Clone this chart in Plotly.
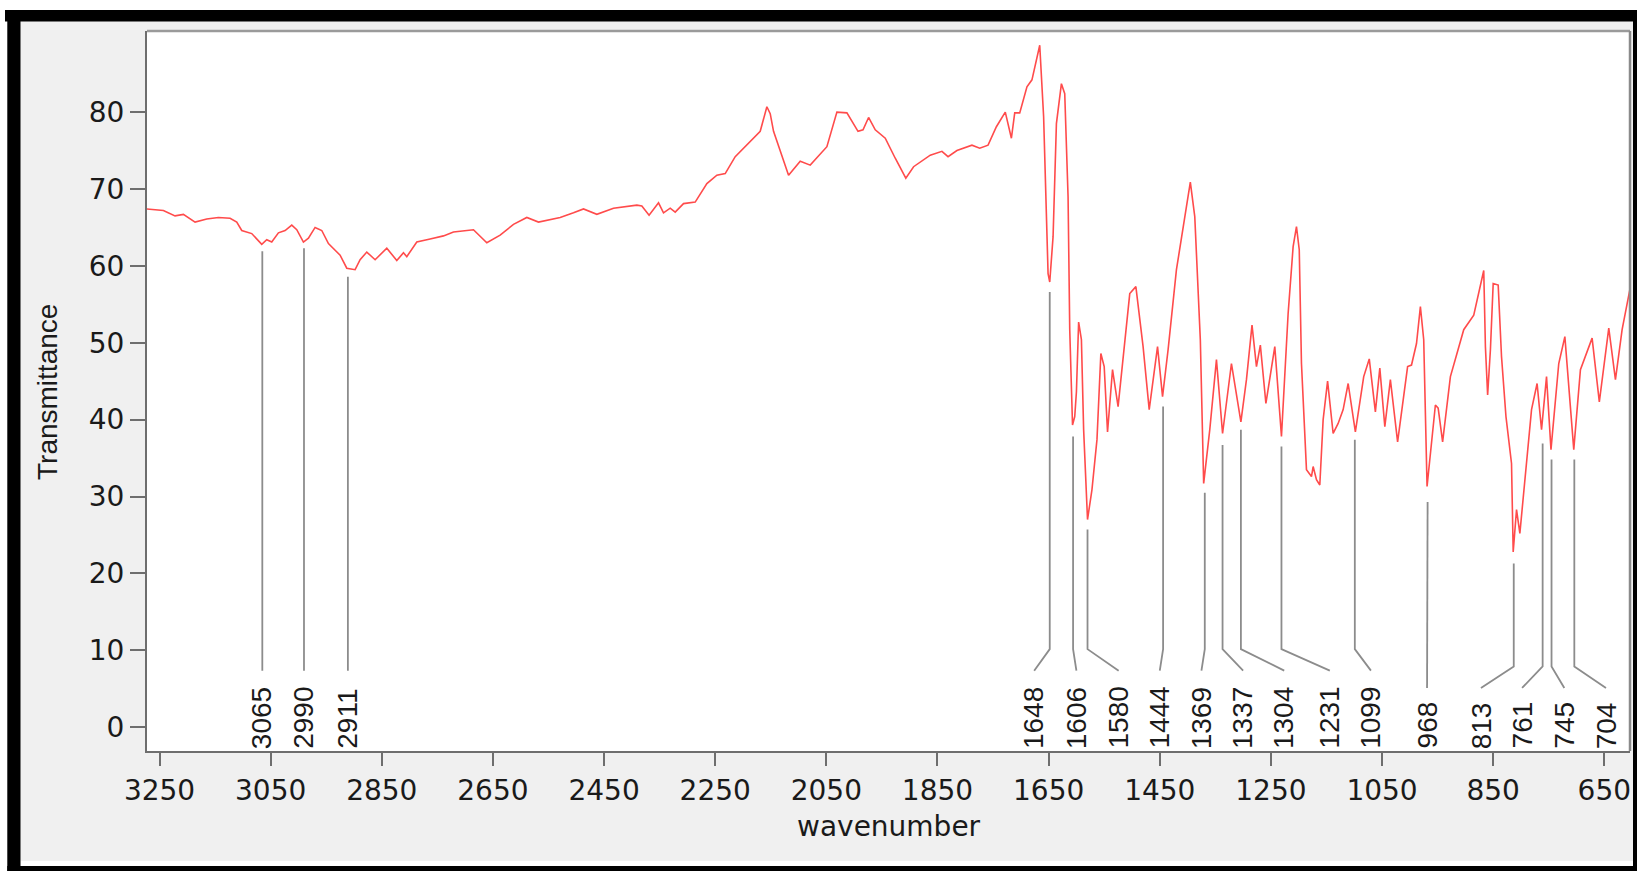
import plotly.graph_objects as go

# ---------------- data ----------------
wavenumber = [
    3273, 3243, 3222, 3207, 3186, 3165, 3144, 3123, 3111, 3102, 3084, 3066, 3057, 3048,
    3036, 3024, 3012, 3003, 2991, 2982, 2970, 2958, 2946, 2934, 2925, 2913, 2898, 2889,
    2877, 2862, 2841, 2823, 2811, 2805, 2787, 2763, 2739, 2721, 2685, 2661, 2637, 2613,
    2589, 2568, 2529, 2505, 2487, 2463, 2433, 2391, 2382, 2369, 2352, 2343, 2331, 2322,
    2307, 2286, 2265, 2247, 2232, 2214, 2193, 2169, 2157, 2151, 2145, 2118, 2097, 2079,
    2049, 2031, 2013, 1993, 1984, 1974, 1962, 1944, 1926, 1907, 1893, 1863, 1842, 1831,
    1815, 1788, 1774, 1759, 1744, 1728, 1717, 1711, 1702, 1689, 1680, 1666, 1659, 1651,
    1648, 1642, 1636, 1627, 1621, 1615, 1612, 1607, 1603, 1600, 1596, 1591, 1587, 1580,
    1572, 1563, 1556, 1550, 1544, 1535, 1525, 1516, 1504, 1493, 1480, 1469, 1454, 1445,
    1435, 1420, 1405, 1395, 1387, 1377, 1371, 1360, 1348, 1337, 1321, 1304, 1294, 1284,
    1276, 1269, 1259, 1243, 1231, 1219, 1210, 1204, 1199, 1195, 1186, 1177, 1174, 1168,
    1162, 1156, 1148, 1138, 1129, 1120, 1111, 1098, 1083, 1073, 1062, 1054, 1045, 1035,
    1022, 1004, 997, 988, 981, 975, 969, 954, 949, 941, 927, 903, 885, 874,
    867, 864, 860, 855, 850, 841, 835, 827, 817, 814, 808, 802, 793, 781,
    771, 763, 754, 746, 732, 721, 705, 693, 672, 659, 642, 630, 618, 603,
]
transmittance = [
    67.4, 67.2, 66.5, 66.7, 65.7, 66.1, 66.3, 66.2, 65.7, 64.6, 64.2, 62.8, 63.4, 63.1,
    64.3, 64.6, 65.3, 64.7, 63.1, 63.6, 65.0, 64.6, 62.9, 62.0, 61.4, 59.7, 59.5, 60.8,
    61.8, 60.8, 62.3, 60.7, 61.7, 61.2, 63.1, 63.5, 63.9, 64.4, 64.7, 63.0, 64.0, 65.4,
    66.3, 65.7, 66.3, 66.9, 67.4, 66.7, 67.5, 67.9, 67.8, 66.6, 68.2, 66.9, 67.5, 67.0,
    68.1, 68.3, 70.7, 71.8, 72.0, 74.2, 75.7, 77.5, 80.7, 79.8, 77.5, 71.8, 73.6, 73.1,
    75.5, 80.0, 79.9, 77.5, 77.7, 79.3, 77.7, 76.6, 74.0, 71.4, 72.9, 74.4, 74.9, 74.2,
    75.0, 75.7, 75.3, 75.7, 78.1, 80.0, 76.6, 79.9, 79.9, 83.3, 84.2, 88.7, 79.4, 59.0,
    57.9, 63.8, 78.5, 83.7, 82.4, 69.0, 51.7, 39.3, 40.4, 43.6, 52.7, 50.4, 38.7, 27.0,
    30.9, 37.4, 48.6, 46.9, 38.4, 46.5, 41.7, 48.2, 56.4, 57.3, 49.5, 41.3, 49.5, 43.0,
    49.1, 59.5, 66.4, 70.9, 66.4, 50.4, 31.7, 38.7, 47.8, 38.2, 47.3, 39.7, 45.2, 52.3,
    46.9, 49.7, 42.1, 49.5, 37.8, 53.8, 62.5, 65.1, 62.1, 47.3, 33.5, 32.6, 33.9, 32.2,
    31.5, 40.0, 45.0, 38.2, 39.5, 41.3, 44.7, 38.4, 45.6, 47.9, 41.0, 46.7, 39.1, 45.2,
    37.1, 46.9, 47.1, 49.9, 54.7, 50.4, 31.3, 41.9, 41.5, 37.1, 45.6, 51.7, 53.6, 57.1,
    59.4, 49.5, 43.2, 49.1, 57.7, 57.5, 48.2, 40.4, 34.3, 22.8, 28.3, 25.2, 32.2, 41.3,
    44.7, 38.7, 45.6, 36.1, 47.3, 50.8, 36.1, 46.5, 50.6, 42.3, 51.9, 45.2, 51.7, 57.3,
]

peak_wn = [3065, 2990, 2911, 1648, 1606, 1580, 1444, 1369, 1337, 1304, 1231, 1099,
           968, 813, 761, 745, 704]
peak_labels = ["3065", "2990", "2911", "1648", "1606", "1580", "1444", "1369", "1337",
               "1304", "1231", "1099", "968", "813", "761", "745", "704"]
peak_line_top = [61.9, 62.3, 58.6, 56.6, 37.8, 25.7, 41.7, 30.5, 36.7, 38.7, 36.5, 37.4,
                 29.3, 21.3, 36.9, 34.8, 34.8]
label_wn = [3065, 2990, 2911, 1676, 1600, 1524, 1450, 1375, 1300, 1226, 1144, 1070,
            969, 872, 798, 722, 647]

x_ticks = [3250, 3050, 2850, 2650, 2450, 2250, 2050, 1850, 1650, 1450, 1250, 1050, 850, 650]
y_ticks = [0, 10, 20, 30, 40, 50, 60, 70, 80]

# ---------------- geometry / style ----------------
W, H = 1637, 871
ML, MR, MT, MB = 147, 7, 31, 120
PW, PH = W - ML - MR, H - MT - MB

def px(xp):
    return (xp - ML) / PW

def py(yp):
    return (H - MB - yp) / PH

HFONT = "DejaVu Sans"
RFONT = "Liberation Sans, Arial"
AX = "#6e6e6e"

fig = go.Figure()

fig.add_trace(go.Scatter(
    x=wavenumber, y=transmittance, mode="lines",
    line=dict(color="rgb(255,75,75)", width=1.6),
    hoverinfo="skip", showlegend=False,
))

# leader lines for peak labels
lx, ly = [], []
for p, top, lab, lw in zip(peak_wn, peak_line_top, peak_labels, label_wn):
    end = 7.35 if len(lab) == 4 else 5.1
    bend = end + 2.8
    lx += [p, p, lw, None]
    ly += [top, bend, end, None]
fig.add_trace(go.Scatter(
    x=lx, y=ly, mode="lines", line=dict(color="#8c8c8c", width=1.8),
    hoverinfo="skip", showlegend=False,
))

annotations = []
for lab, lw in zip(peak_labels, label_wn):
    annotations.append(dict(
        x=lw, y=-2.95, xref="x", yref="y", text=lab, textangle=-90,
        showarrow=False, xanchor="center", yanchor="bottom", borderpad=0,
        font=dict(family=RFONT, size=28, color="#1a1a1a"),
    ))

annotations.append(dict(
    x=0.5, y=py(826), xref="paper", yref="paper", text="wavenumber",
    showarrow=False, xanchor="center", yanchor="middle",
    font=dict(family=HFONT, size=28, color="#1a1a1a"),
))
annotations.append(dict(
    x=px(47), y=py(392), xref="paper", yref="paper", text="Transmittance",
    textangle=-90, showarrow=False, xanchor="center", yanchor="middle",
    font=dict(family=RFONT, size=28, color="#1a1a1a"),
))

def band(x0, x1, y0, y1, color):
    return dict(type="rect", xref="paper", yref="paper", x0=px(x0), x1=px(x1),
                y0=py(y1), y1=py(y0), fillcolor=color, line=dict(width=0), layer="below")

shapes = [
    # white outer strips
    band(0, 1637, 0, 10, "white"),
    band(0, 7.3, 0, 871, "white"),
    band(20.5, 1633, 861, 866, "white"),
    # black frame bands
    band(5, 1637, 10, 21.5, "black"),
    band(7.3, 20.5, 10, 871, "black"),
    band(7.3, 1637, 866, 871, "black"),
    band(1633, 1637, 10, 866, "black"),
    # top and right frame of the plot area
    dict(type="line", xref="paper", yref="paper", x0=0, x1=1, y0=1, y1=1,
         line=dict(color="#9a9a9a", width=2.5), layer="above"),
    dict(type="line", xref="paper", yref="paper", x0=1, x1=1, y0=0, y1=1,
         line=dict(color="#8a8a8a", width=2.5), layer="above"),
]

fig.update_layout(
    width=W, height=H,
    margin=dict(l=ML, r=MR, t=MT, b=MB, pad=0),
    paper_bgcolor="#f0f0f0", plot_bgcolor="white",
    showlegend=False,
    annotations=annotations,
    shapes=shapes,
    xaxis=dict(
        range=[3272.5, 603.8], tickmode="array", tickvals=x_ticks,
        ticktext=[str(t) for t in x_ticks],
        ticks="outside", ticklen=13, tickwidth=2, tickcolor=AX,
        showline=True, linecolor=AX, linewidth=2,
        showgrid=False, zeroline=False,
        tickfont=dict(family=HFONT, size=28, color="#1a1a1a"),
    ),
    yaxis=dict(
        range=[-3.1, 90.55], tickmode="array", tickvals=y_ticks,
        ticks="outside", ticklen=15, tickwidth=2, tickcolor=AX,
        showline=True, linecolor=AX, linewidth=2,
        showgrid=False, zeroline=False,
        tickfont=dict(family=HFONT, size=28, color="#1a1a1a"),
    ),
)

fig.write_html(
    "out.html",
    config={"displayModeBar": False},
    post_script="document.body.style.margin='0px';document.body.style.overflow='hidden';",
)
